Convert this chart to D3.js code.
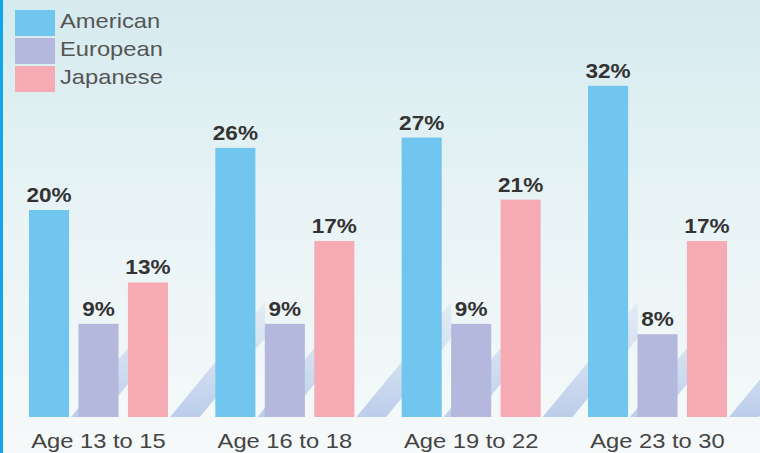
<!DOCTYPE html>
<html>
<head>
<meta charset="utf-8">
<script src="https://cdn.jsdelivr.net/npm/d3@7"></script>
<style>
  html, body { margin: 0; padding: 0; background: #fff; }
  svg { display: block; }
</style>
</head>
<body>
<svg id="chart" width="760" height="453"></svg>
<script>
// ---- data ----
const categories = ["Age 13 to 15", "Age 16 to 18", "Age 19 to 22", "Age 23 to 30"];
const seriesNames = ["American", "European", "Japanese"];
const american = [20, 26, 27, 32];
const european = [9, 9, 9, 8];
const japanese = [13, 17, 21, 17];
const seriesValues = [american, european, japanese];
const seriesColors = ["#70c6ee", "#b3b8dc", "#f5aab4"];

// ---- setup ----
const W = 760, H = 453;
const svg = d3.select("#chart");
const FONT = "'Liberation Sans', Arial, Helvetica, sans-serif";
const SX = 1.13; // horizontal stretch of the original picture's type

const defs = svg.append("defs");
const bg = defs.append("linearGradient").attr("id", "bg")
  .attr("x1", 0).attr("y1", 0).attr("x2", 0).attr("y2", 1);
bg.append("stop").attr("offset", "0%").attr("stop-color", "#d5ebef");
bg.append("stop").attr("offset", "45%").attr("stop-color", "#e8f3f5");
bg.append("stop").attr("offset", "100%").attr("stop-color", "#f6f9fa");

const stripeGrad = defs.append("linearGradient").attr("id", "stripe")
  .attr("x1", 0).attr("y1", 1).attr("x2", 0).attr("y2", 0);
stripeGrad.append("stop").attr("offset", "0%").attr("stop-color", "#b9cbea").attr("stop-opacity", 0.95);
stripeGrad.append("stop").attr("offset", "100%").attr("stop-color", "#c9d9ee").attr("stop-opacity", 0.35);

svg.append("rect").attr("width", W).attr("height", H).attr("fill", "url(#bg)");

// ---- scales ----
const x0 = d3.scaleBand().domain(categories).range([29, 727]).paddingInner(0.254).paddingOuter(0);
const x1 = d3.scaleBand().domain(seriesNames).range([0, x0.bandwidth()]).paddingInner(0.19).paddingOuter(0);
const y = d3.scaleLinear().domain([0, 40]).range([417, 3]);

// ---- decorative rising stripes behind the bars ----
const deco = svg.append("g");
const base = y(0);
categories.forEach(c => {
  const gx = x0(c);
  [gx + 42, gx + x0.bandwidth() + 2].forEach(sx => {
    const rise = 115, run = 95, thick = 36;
    const pts = [[sx, base], [sx + run, base - rise], [sx + run, base - rise + thick], [sx + thick * run / rise, base]];
    deco.append("path")
      .attr("d", d3.line()(pts) + "Z")
      .attr("fill", "url(#stripe)");
  });
});

// ---- bars ----
const groups = svg.append("g").selectAll("g")
  .data(categories)
  .join("g")
  .attr("transform", c => `translate(${x0(c)},0)`);

groups.selectAll("rect")
  .data((c, i) => seriesNames.map((s, k) => ({ s, v: seriesValues[k][i], k })))
  .join("rect")
  .attr("x", d => x1(d.s))
  .attr("y", d => y(d.v))
  .attr("width", x1.bandwidth())
  .attr("height", d => y(0) - y(d.v))
  .attr("fill", d => seriesColors[d.k]);

groups.selectAll("text.val")
  .data((c, i) => seriesNames.map((s, k) => ({ s, v: seriesValues[k][i], k })))
  .join("text")
  .attr("class", "val")
  .attr("transform", d => `translate(${x1(d.s) + x1.bandwidth() / 2},${y(d.v) - 8}) scale(${SX},1)`)
  .attr("text-anchor", "middle")
  .attr("font-family", FONT)
  .attr("font-weight", "bold")
  .attr("font-size", 20)
  .attr("fill", "#333")
  .text(d => d.v + "%");

// ---- category axis labels ----
svg.append("g").selectAll("text")
  .data(categories)
  .join("text")
  .attr("transform", c => `translate(${x0(c) + x0.bandwidth() / 2},448) scale(${SX},1)`)
  .attr("text-anchor", "middle")
  .attr("font-family", FONT)
  .attr("font-size", 21)
  .attr("fill", "#444")
  .text(c => c);

// ---- legend ----
const legend = svg.append("g");
const leg = legend.selectAll("g")
  .data(seriesNames)
  .join("g")
  .attr("transform", (s, i) => `translate(15,${10 + i * 28})`);
leg.append("rect")
  .attr("width", 40).attr("height", 26)
  .attr("fill", (s, i) => seriesColors[i]);
leg.append("text")
  .attr("transform", `translate(45,18) scale(${SX},1)`)
  .attr("font-family", FONT)
  .attr("font-size", 21)
  .attr("fill", "#555")
  .text(s => s);

// ---- left border ----
svg.append("rect").attr("x", 0).attr("y", 0).attr("width", 3).attr("height", H).attr("fill", "#12a5ec");
</script>
</body>
</html>
